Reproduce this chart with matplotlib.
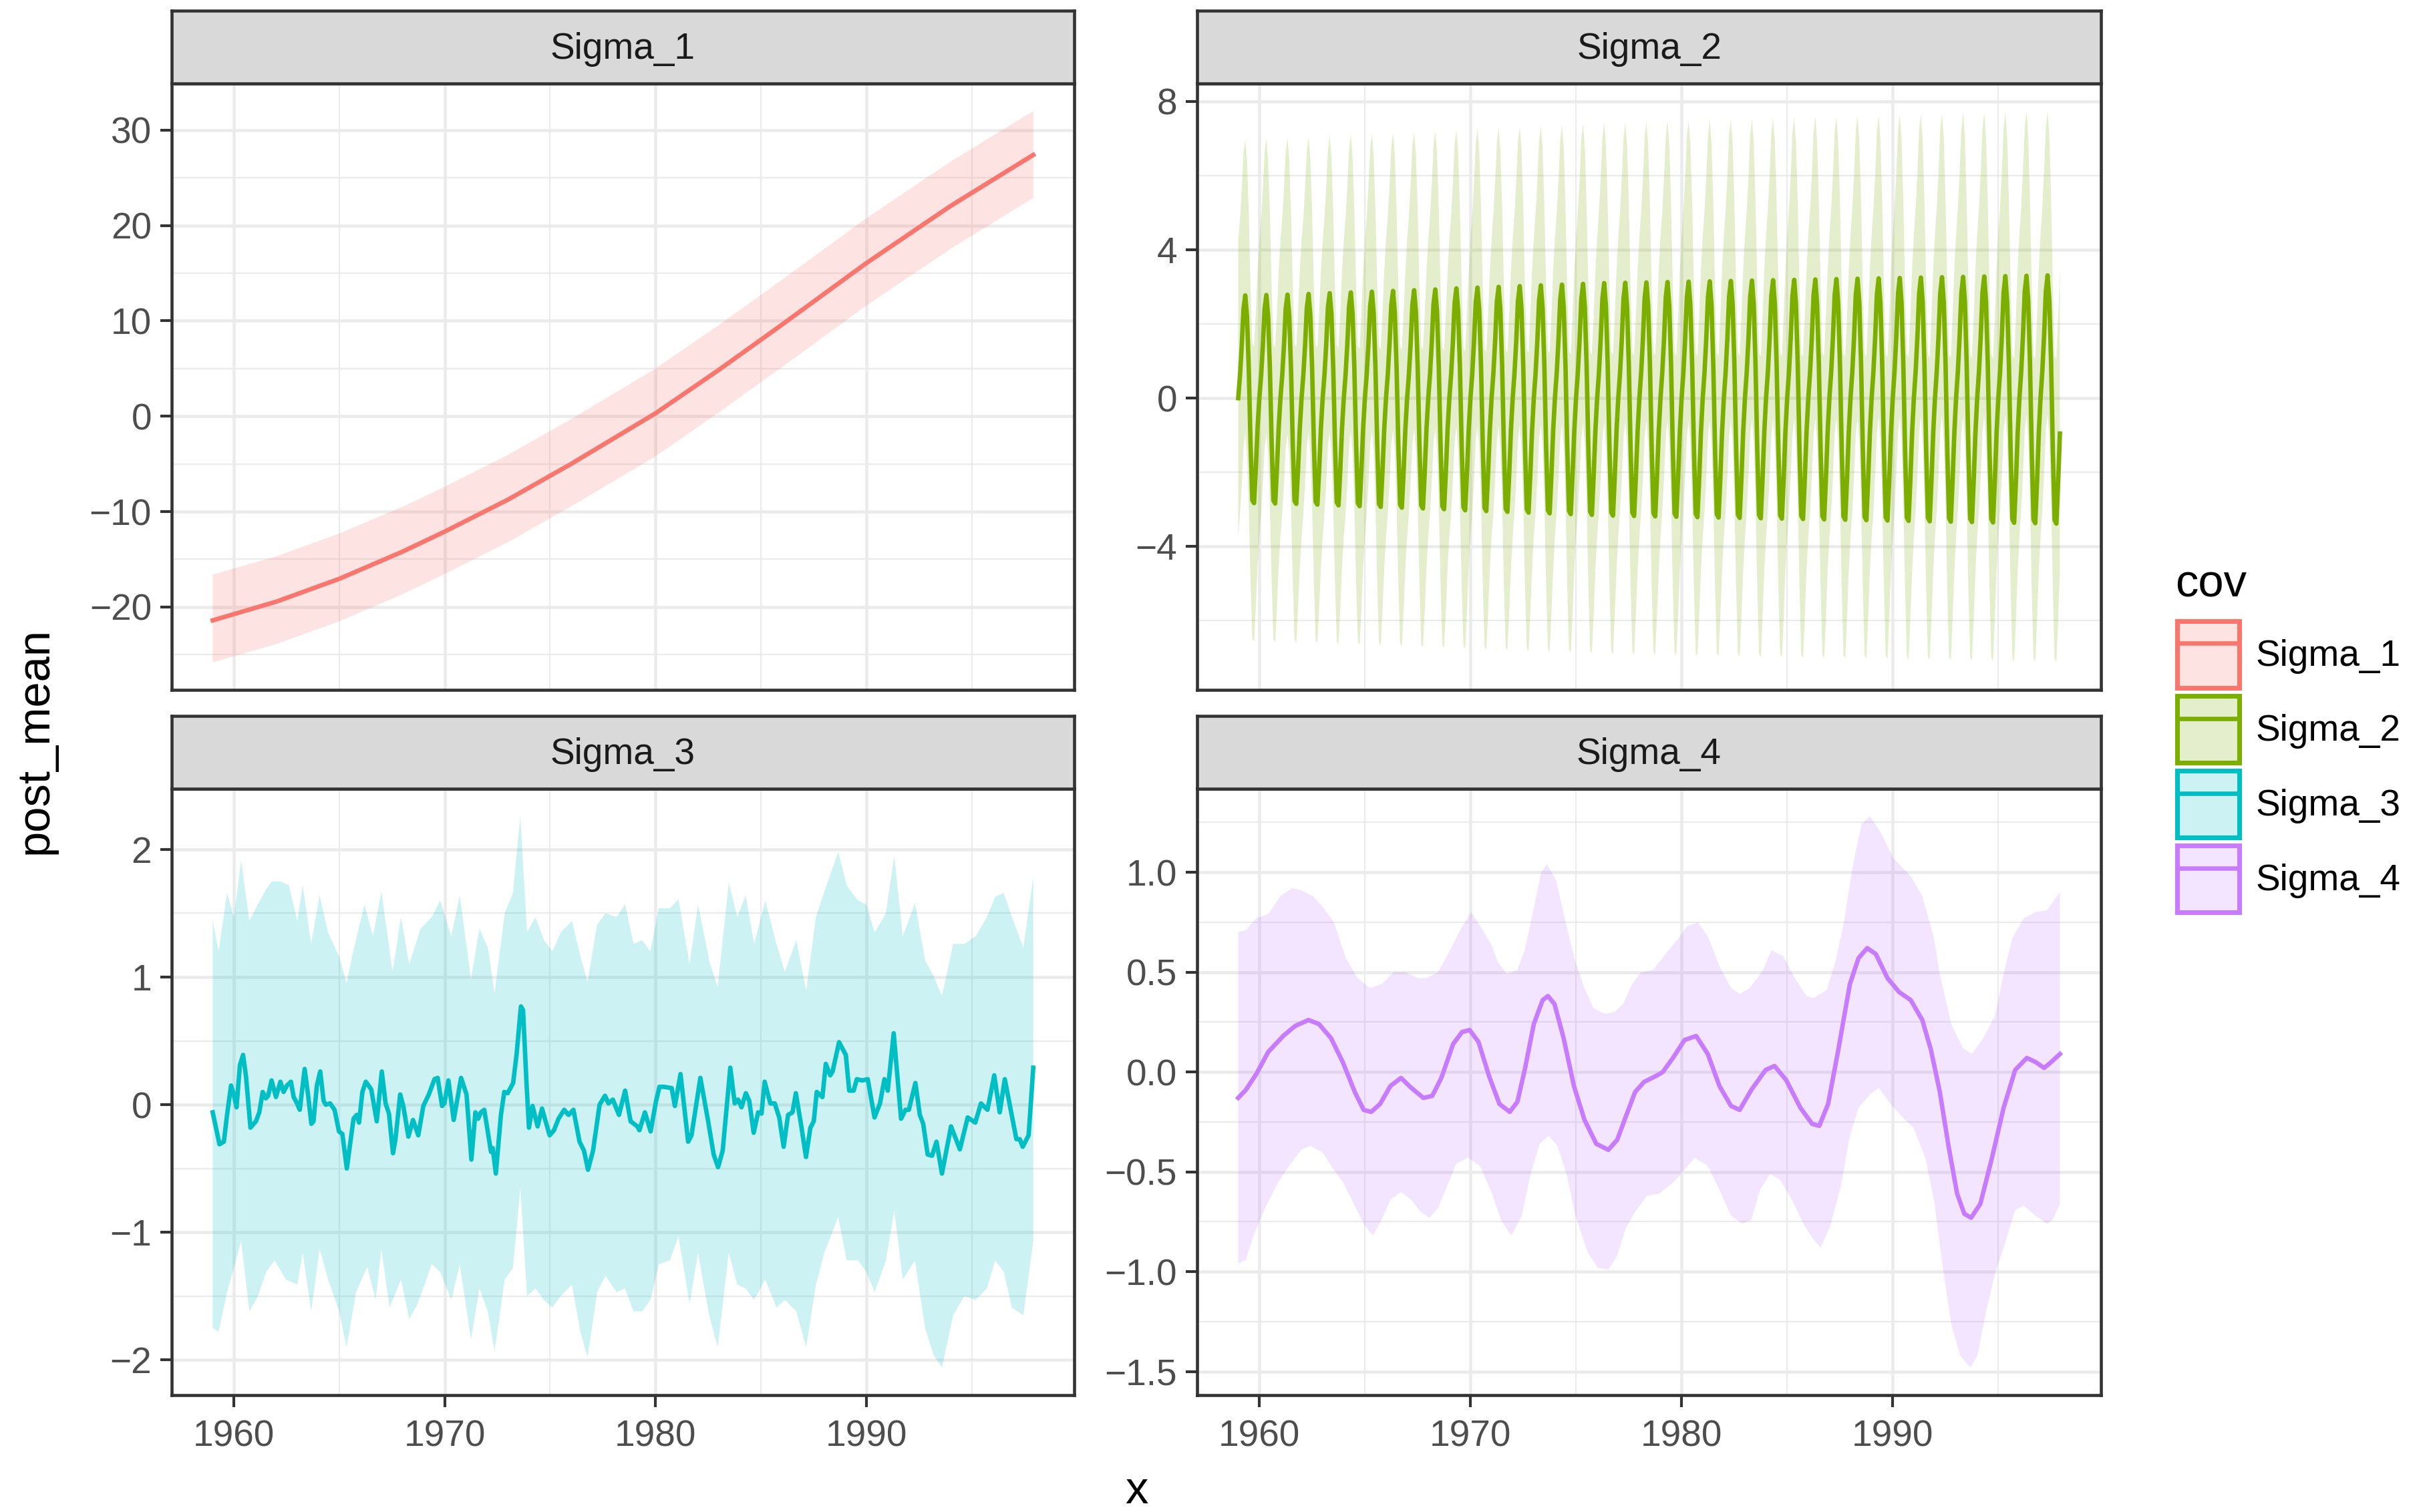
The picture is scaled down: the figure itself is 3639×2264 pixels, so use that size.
import numpy as np
import matplotlib
matplotlib.use("Agg")
import matplotlib.pyplot as plt
from matplotlib.patches import Patch
from matplotlib.lines import Line2D
from matplotlib.ticker import MultipleLocator, FuncFormatter

plt.rcParams['font.family'] = ['Liberation Sans', 'DejaVu Sans']

# ggplot default hue palette, one colour per facet
panel_names = ['Sigma_1', 'Sigma_2', 'Sigma_3', 'Sigma_4']
colours = ['#F8766D', '#7CAE00', '#00BFC4', '#C77CFF']

# ---- Sigma_1 : smooth trend ----
s1_year = [1959, 1962, 1965, 1968, 1970, 1973, 1976, 1980, 1983, 1986, 1990, 1994, 1997.92]
s1_mean = [-21.4, -19.45, -17.05, -14.2, -12.1, -8.75, -5.0, 0.3, 4.85, 9.6, 16.05, 22.05, 27.4]
s1_upper = [-16.6, -14.7, -12.3, -9.5, -7.4, -4.05, -0.3, 5.0, 9.55, 14.3, 20.75, 26.7, 32.0]
s1_lower = [-25.8, -23.9, -21.5, -18.65, -16.55, -13.2, -9.45, -4.2, 0.4, 5.15, 11.6, 17.55, 22.9]

# ---- Sigma_2 : seasonal cycle, monthly 1959-1997 ----
# monthly shape of 1959 (Jan..Dec) and the peak reached in each year
s2_month_shape = [0.0, 0.6, 1.4, 2.4, 2.77, 2.2, 0.8, -1.2, -2.75, -2.83, -1.9, -0.8]
s2_peak_by_year = [2.77, 2.78, 2.79, 2.81, 2.83, 2.85, 2.87, 2.89, 2.91, 2.93,
                   2.96, 2.98, 3.00, 3.02, 3.04, 3.06, 3.08, 3.10, 3.11, 3.12,
                   3.13, 3.14, 3.15, 3.16, 3.17, 3.18, 3.19, 3.20, 3.21, 3.22,
                   3.23, 3.24, 3.25, 3.26, 3.27, 3.28, 3.29, 3.30, 3.31]
# ribbon distance above / below the mean for each year
s2_band_above = [4.22, 4.22, 4.23, 4.23, 4.24, 4.25, 4.25, 4.26, 4.27, 4.27,
                 4.28, 4.29, 4.29, 4.30, 4.31, 4.31, 4.32, 4.33, 4.33, 4.34,
                 4.35, 4.35, 4.36, 4.37, 4.37, 4.38, 4.38, 4.39, 4.39, 4.40,
                 4.40, 4.41, 4.41, 4.42, 4.42, 4.42, 4.43, 4.43, 4.43]
s2_band_below = 3.74

# ---- Sigma_3 : noisy residual ----
s3_year = [1959.0, 1959.32, 1959.53, 1959.68, 1959.87, 1960.0, 1960.13, 1960.29, 1960.44, 1960.58,
           1960.79, 1961.05, 1961.21, 1961.37, 1961.52, 1961.63, 1961.79, 1962.0, 1962.21, 1962.36,
           1962.52, 1962.71, 1962.84, 1963.0, 1963.13, 1963.36, 1963.52, 1963.68, 1963.78, 1963.94,
           1964.10, 1964.26, 1964.36, 1964.57, 1964.78, 1964.99, 1965.15, 1965.36, 1965.55, 1965.68,
           1965.83, 1965.94, 1966.10, 1966.26, 1966.52, 1966.78, 1967.02, 1967.20, 1967.36, 1967.55,
           1967.67, 1967.89, 1968.04, 1968.28, 1968.50, 1968.75, 1968.99, 1969.25, 1969.52, 1969.67,
           1969.88, 1969.99, 1970.18, 1970.43, 1970.78, 1971.04, 1971.27, 1971.46, 1971.59, 1971.72,
           1971.88, 1972.20, 1972.28, 1972.43, 1972.67, 1972.83, 1972.99, 1973.25, 1973.41, 1973.62,
           1973.72, 1973.88, 1974.00, 1974.17, 1974.41, 1974.62, 1974.98, 1975.19, 1975.40, 1975.67,
           1975.88, 1976.11, 1976.40, 1976.61, 1976.80, 1977.04, 1977.35, 1977.61, 1977.77, 1977.98,
           1978.27, 1978.56, 1978.82, 1979.14, 1979.24, 1979.50, 1979.77, 1980.03, 1980.19, 1980.40,
           1980.77, 1980.92, 1981.19, 1981.55, 1981.71, 1982.13, 1982.50, 1982.76, 1982.97, 1983.19,
           1983.55, 1983.76, 1983.92, 1984.08, 1984.29, 1984.45, 1984.66, 1984.87, 1985.03, 1985.18,
           1985.45, 1985.66, 1985.87, 1986.08, 1986.29, 1986.50, 1986.66, 1986.92, 1987.14, 1987.35,
           1987.51, 1987.65, 1987.92, 1988.08, 1988.29, 1988.40, 1988.71, 1989.03, 1989.19, 1989.40,
           1989.55, 1989.81, 1990.07, 1990.39, 1990.65, 1990.86, 1991.02, 1991.30, 1991.65, 1991.86,
           1992.02, 1992.33, 1992.54, 1992.70, 1992.91, 1993.12, 1993.33, 1993.59, 1994.02, 1994.44,
           1994.81, 1995.17, 1995.44, 1995.75, 1996.07, 1996.33, 1996.57, 1997.12, 1997.28, 1997.42,
           1997.70, 1997.92]
s3_mean = [-0.06, -0.31, -0.29, -0.08, 0.15, 0.08, -0.02, 0.31, 0.39, 0.22,
           -0.18, -0.13, -0.06, 0.10, 0.05, 0.07, 0.19, 0.06, 0.18, 0.10,
           0.15, 0.18, 0.06, 0.01, -0.04, 0.28, 0.08, -0.15, -0.13, 0.15,
           0.26, 0.03, 0.00, 0.01, -0.04, -0.21, -0.23, -0.50, -0.27, -0.11,
           -0.08, -0.14, 0.10, 0.18, 0.12, -0.13, 0.26, 0.01, -0.07, -0.38,
           -0.27, 0.08, -0.01, -0.25, -0.12, -0.24, -0.01, 0.08, 0.20, 0.21,
           -0.01, 0.01, 0.19, -0.12, 0.21, 0.08, -0.43, -0.06, -0.11, -0.06,
           -0.04, -0.37, -0.34, -0.54, -0.08, 0.10, 0.09, 0.17, 0.39, 0.77,
           0.74, 0.18, -0.18, -0.01, -0.17, -0.03, -0.24, -0.20, -0.11, -0.04,
           -0.08, -0.04, -0.29, -0.36, -0.51, -0.36, 0.00, 0.07, 0.01, 0.04,
           -0.08, 0.11, -0.13, -0.17, -0.20, -0.06, -0.21, 0.03, 0.14, 0.14,
           0.13, -0.01, 0.24, -0.29, -0.24, 0.21, -0.13, -0.39, -0.49, -0.36,
           0.29, 0.01, 0.04, -0.02, 0.09, 0.03, -0.22, -0.06, -0.07, 0.18,
           0.01, 0.01, -0.10, -0.33, -0.08, -0.06, 0.09, -0.17, -0.41, -0.18,
           -0.13, 0.10, 0.06, 0.32, 0.23, 0.26, 0.49, 0.39, 0.11, 0.11,
           0.20, 0.19, 0.20, -0.10, 0.01, 0.20, 0.11, 0.56, -0.11, -0.04,
           -0.04, 0.17, -0.08, -0.15, -0.39, -0.40, -0.29, -0.54, -0.17, -0.35,
           -0.10, -0.14, 0.01, -0.04, 0.23, -0.06, 0.20, -0.27, -0.27, -0.33,
           -0.24, 0.29]
s3_upper_year = [1959.0, 1959.28, 1959.68, 1960.0, 1960.35, 1960.74, 1961.14, 1961.54, 1961.81, 1962.21,
                 1962.61, 1963.01, 1963.27, 1963.67, 1964.07, 1964.47, 1965.0, 1965.35, 1965.66, 1966.20,
                 1966.60, 1967.0, 1967.53, 1967.93, 1968.32, 1968.86, 1969.39, 1969.79, 1970.32, 1970.72,
                 1971.25, 1971.65, 1972.05, 1972.37, 1972.85, 1973.24, 1973.59, 1973.91, 1974.31, 1974.71,
                 1975.11, 1975.51, 1976.04, 1976.44, 1976.78, 1977.23, 1977.63, 1978.16, 1978.56, 1978.96,
                 1979.36, 1979.76, 1980.16, 1980.69, 1981.09, 1981.62, 1982.02, 1982.55, 1982.95, 1983.48,
                 1983.88, 1984.28, 1984.68, 1985.21, 1985.74, 1986.14, 1986.68, 1987.15, 1987.61, 1988.01,
                 1988.67, 1989.07, 1989.60, 1990.0, 1990.40, 1990.93, 1991.33, 1991.73, 1992.31, 1992.79,
                 1993.19, 1993.59, 1994.12, 1994.65, 1995.19, 1995.72, 1996.12, 1996.52, 1996.91, 1997.45,
                 1997.92]
s3_upper = [1.44, 1.20, 1.66, 1.47, 1.91, 1.44, 1.57, 1.69, 1.75, 1.75,
            1.72, 1.44, 1.72, 1.26, 1.64, 1.35, 1.16, 0.95, 1.20, 1.57,
            1.32, 1.67, 1.04, 1.47, 1.10, 1.38, 1.47, 1.60, 1.32, 1.64,
            0.98, 1.38, 1.23, 0.87, 1.50, 1.66, 2.26, 1.35, 1.47, 1.29,
            1.20, 1.35, 1.44, 1.16, 0.96, 1.41, 1.50, 1.47, 1.57, 1.26,
            1.29, 1.20, 1.54, 1.54, 1.61, 1.10, 1.57, 1.13, 0.92, 1.74,
            1.47, 1.64, 1.26, 1.60, 1.26, 1.04, 1.29, 0.89, 1.47, 1.67,
            1.98, 1.72, 1.60, 1.57, 1.35, 1.50, 1.95, 1.32, 1.58, 1.13,
            1.01, 0.85, 1.26, 1.26, 1.32, 1.47, 1.63, 1.66, 1.47, 1.23,
            1.78]
s3_lower_year = [1959.0, 1959.28, 1959.68, 1960.0, 1960.35, 1960.74, 1961.14, 1961.54, 1961.94, 1962.47,
                 1963.01, 1963.27, 1963.67, 1964.07, 1964.47, 1965.0, 1965.35, 1965.80, 1966.33, 1966.73,
                 1967.0, 1967.39, 1967.93, 1968.32, 1968.72, 1969.39, 1969.79, 1970.32, 1970.72, 1971.25,
                 1971.65, 1972.05, 1972.37, 1972.85, 1973.24, 1973.59, 1973.91, 1974.31, 1974.71, 1975.11,
                 1975.51, 1976.04, 1976.44, 1976.78, 1977.23, 1977.63, 1978.16, 1978.56, 1978.96, 1979.36,
                 1979.76, 1980.16, 1980.69, 1981.09, 1981.62, 1982.02, 1982.55, 1982.95, 1983.48, 1983.88,
                 1984.28, 1984.68, 1985.21, 1985.74, 1986.14, 1986.68, 1987.15, 1987.61, 1988.01, 1988.67,
                 1989.07, 1989.60, 1990.0, 1990.40, 1990.93, 1991.33, 1991.73, 1992.31, 1992.79, 1993.19,
                 1993.59, 1994.12, 1994.65, 1995.19, 1995.72, 1996.12, 1996.52, 1996.91, 1997.45, 1997.92]
s3_lower = [-1.75, -1.78, -1.47, -1.28, -1.07, -1.62, -1.50, -1.31, -1.22, -1.37,
            -1.41, -1.16, -1.62, -1.13, -1.37, -1.62, -1.90, -1.47, -1.27, -1.53,
            -1.13, -1.59, -1.37, -1.68, -1.56, -1.25, -1.31, -1.53, -1.25, -1.84,
            -1.44, -1.62, -1.93, -1.37, -1.28, -0.65, -1.50, -1.44, -1.53, -1.59,
            -1.50, -1.41, -1.78, -1.98, -1.47, -1.34, -1.47, -1.44, -1.62, -1.62,
            -1.53, -1.25, -1.22, -1.03, -1.56, -1.16, -1.65, -1.90, -1.16, -1.41,
            -1.44, -1.53, -1.37, -1.59, -1.53, -1.62, -1.90, -1.41, -1.16, -0.88,
            -1.22, -1.22, -1.31, -1.47, -1.22, -0.83, -1.37, -1.22, -1.75, -1.96,
            -2.06, -1.65, -1.50, -1.53, -1.44, -1.22, -1.31, -1.59, -1.65, -1.07]

# ---- Sigma_4 : slow wiggle ----
s4_year = [1959.0, 1959.36, 1959.86, 1960.42, 1961.13, 1961.69, 1962.33, 1962.82, 1963.39, 1963.95,
           1964.52, 1964.94, 1965.30, 1965.72, 1966.21, 1966.71, 1967.20, 1967.77, 1968.19, 1968.62,
           1969.18, 1969.60, 1969.96, 1970.38, 1970.88, 1971.37, 1971.86, 1972.22, 1972.57, 1973.0,
           1973.42, 1973.67, 1973.98, 1974.41, 1974.90, 1975.40, 1975.96, 1976.53, 1976.95, 1977.37,
           1977.80, 1978.22, 1978.79, 1979.11, 1979.59, 1980.14, 1980.69, 1981.24, 1981.79, 1982.34,
           1982.75, 1983.30, 1983.98, 1984.40, 1984.95, 1985.63, 1986.18, 1986.52, 1986.94, 1987.42,
           1987.97, 1988.38, 1988.79, 1989.20, 1989.75, 1990.30, 1990.85, 1991.40, 1991.81, 1992.23,
           1992.64, 1993.05, 1993.39, 1993.71, 1994.15, 1994.70, 1995.25, 1995.80, 1996.35, 1996.76,
           1997.17, 1997.51, 1997.92]
s4_mean = [-0.13, -0.09, -0.01, 0.10, 0.18, 0.23, 0.26, 0.24, 0.17, 0.05,
           -0.10, -0.19, -0.20, -0.16, -0.07, -0.03, -0.08, -0.13, -0.12, -0.03,
           0.14, 0.20, 0.21, 0.15, -0.02, -0.16, -0.20, -0.15, 0.01, 0.24,
           0.36, 0.38, 0.34, 0.17, -0.07, -0.24, -0.36, -0.39, -0.34, -0.22,
           -0.10, -0.05, -0.02, 0.00, 0.07, 0.16, 0.18, 0.09, -0.07, -0.17,
           -0.19, -0.09, 0.01, 0.03, -0.04, -0.18, -0.26, -0.27, -0.16, 0.11,
           0.44, 0.57, 0.62, 0.59, 0.47, 0.40, 0.36, 0.26, 0.11, -0.10,
           -0.37, -0.61, -0.71, -0.73, -0.66, -0.43, -0.18, 0.01, 0.07, 0.05,
           0.02, 0.05, 0.09]
s4_upper_year = [1959.0, 1959.36, 1959.86, 1960.42, 1960.99, 1961.55, 1961.98, 1962.54, 1962.97, 1963.53,
                 1964.10, 1964.66, 1965.23, 1965.79, 1966.36, 1966.92, 1967.49, 1967.91, 1968.47, 1969.04,
                 1969.46, 1970.03, 1970.59, 1971.02, 1971.30, 1971.72, 1972.22, 1972.57, 1973.0, 1973.35,
                 1973.63, 1974.05, 1974.55, 1974.97, 1975.40, 1975.82, 1976.38, 1976.81, 1977.23, 1977.66,
                 1978.08, 1978.64, 1979.31, 1979.86, 1980.27, 1980.76, 1981.24, 1981.79, 1982.34, 1982.75,
                 1983.23, 1983.85, 1984.26, 1984.81, 1985.36, 1985.91, 1986.25, 1986.87, 1987.28, 1987.69,
                 1988.10, 1988.52, 1988.93, 1989.48, 1990.03, 1990.85, 1991.40, 1991.95, 1992.23, 1992.77,
                 1993.32, 1993.74, 1994.29, 1994.84, 1995.25, 1995.66, 1996.21, 1996.76, 1997.31, 1997.65,
                 1997.92]
s4_upper = [0.70, 0.71, 0.77, 0.79, 0.88, 0.92, 0.91, 0.88, 0.83, 0.75,
            0.57, 0.47, 0.42, 0.44, 0.50, 0.50, 0.47, 0.47, 0.50, 0.61,
            0.70, 0.80, 0.71, 0.63, 0.55, 0.49, 0.51, 0.61, 0.82, 1.00,
            1.04, 0.96, 0.73, 0.55, 0.42, 0.32, 0.29, 0.30, 0.34, 0.44,
            0.50, 0.51, 0.60, 0.67, 0.73, 0.75, 0.68, 0.53, 0.42, 0.39,
            0.42, 0.51, 0.61, 0.58, 0.47, 0.38, 0.37, 0.41, 0.55, 0.75,
            1.03, 1.24, 1.28, 1.19, 1.07, 0.98, 0.88, 0.67, 0.49, 0.24,
            0.12, 0.09, 0.17, 0.28, 0.49, 0.67, 0.77, 0.80, 0.81, 0.86,
            0.90]
s4_lower_year = [1959.0, 1959.36, 1959.72, 1960.28, 1960.85, 1961.41, 1961.98, 1962.40, 1962.97, 1963.53,
                 1963.95, 1964.38, 1964.94, 1965.37, 1965.79, 1966.21, 1966.71, 1967.20, 1967.63, 1968.05,
                 1968.47, 1968.90, 1969.32, 1969.89, 1970.45, 1971.02, 1971.44, 1971.94, 1972.43, 1972.85,
                 1973.28, 1973.70, 1974.12, 1974.55, 1974.97, 1975.54, 1976.03, 1976.53, 1976.95, 1977.37,
                 1977.80, 1978.36, 1978.93, 1979.73, 1980.14, 1980.62, 1981.24, 1981.79, 1982.34, 1982.88,
                 1983.30, 1983.71, 1984.19, 1984.67, 1985.22, 1985.77, 1986.18, 1986.59, 1987.01, 1987.55,
                 1987.97, 1988.38, 1988.93, 1989.34, 1989.89, 1990.58, 1990.99, 1991.54, 1991.95, 1992.36,
                 1992.77, 1993.19, 1993.67, 1994.01, 1994.42, 1994.84, 1995.25, 1995.80, 1996.21, 1996.76,
                 1997.31, 1997.58, 1997.92]
s4_lower = [-0.96, -0.94, -0.82, -0.68, -0.56, -0.47, -0.39, -0.37, -0.40, -0.49,
            -0.55, -0.64, -0.76, -0.82, -0.74, -0.64, -0.60, -0.64, -0.70, -0.73,
            -0.68, -0.57, -0.46, -0.43, -0.47, -0.61, -0.74, -0.82, -0.72, -0.51,
            -0.36, -0.32, -0.37, -0.51, -0.72, -0.90, -0.98, -0.99, -0.92, -0.78,
            -0.70, -0.62, -0.61, -0.54, -0.49, -0.43, -0.47, -0.59, -0.72, -0.76,
            -0.74, -0.59, -0.51, -0.54, -0.64, -0.76, -0.83, -0.88, -0.78, -0.57,
            -0.32, -0.18, -0.11, -0.08, -0.16, -0.24, -0.28, -0.43, -0.64, -0.97,
            -1.26, -1.42, -1.48, -1.42, -1.20, -1.01, -0.88, -0.69, -0.67, -0.72,
            -0.76, -0.74, -0.66]

# build the monthly Sigma_2 series from the yearly shape
s2_year = 1959 + np.arange(len(s2_peak_by_year) * 12) / 12.0
s2_mean = np.concatenate([np.array(s2_month_shape) * p / max(s2_month_shape) for p in s2_peak_by_year])
s2_upper = s2_mean + np.repeat(s2_band_above, 12)
s2_lower = s2_mean - s2_band_below

series = [
    (s1_year, s1_mean, s1_year, s1_upper, s1_year, s1_lower, 10, 5, '%d'),
    (s2_year, s2_mean, s2_year, s2_upper, s2_year, s2_lower, 4, 2, '%d'),
    (s3_year, s3_mean, s3_upper_year, s3_upper, s3_lower_year, s3_lower, 1, 0.5, '%d'),
    (s4_year, s4_mean, s4_upper_year, s4_upper, s4_lower_year, s4_lower, 0.5, 0.25, '%.1f'),
]

W, H = 3639, 2264
fig = plt.figure(figsize=(W / 300, H / 300), dpi=300)

# panel boxes in pixels: (left, top, right, bottom)
boxes = [(257, 125, 1608, 1033), (1792, 125, 3145, 1033),
         (257, 1181, 1608, 2089), (1792, 1181, 3145, 2089)]
strip_h = 109
grid_col = '#EBEBEB'
dark = '#333333'
line_w = 1.6

for i, (name, col, box, s) in enumerate(zip(panel_names, colours, boxes, series)):
    x0, y0, x1, y1 = box
    ax = fig.add_axes([x0 / W, 1 - y1 / H, (x1 - x0) / W, (y1 - y0) / H])
    mx, my, ux, uy, lx, ly, major, minor, fmt = s

    # ribbon as one polygon (upper edge, then lower edge backwards)
    px = np.concatenate([np.asarray(ux, float), np.asarray(lx, float)[::-1]])
    py = np.concatenate([np.asarray(uy, float), np.asarray(ly, float)[::-1]])
    ax.fill(px, py, color=col, alpha=0.2, lw=0)
    ax.plot(mx, my, color=col, lw=line_w, solid_joinstyle='round')

    lo = min(np.min(ly), np.min(my))
    hi = max(np.max(uy), np.max(my))
    pad = 0.05 * (hi - lo)
    ax.set_ylim(lo - pad, hi + pad)
    xr = 1997.917 - 1959.0
    ax.set_xlim(1959.0 - 0.05 * xr, 1997.917 + 0.05 * xr)

    ax.xaxis.set_major_locator(MultipleLocator(10))
    ax.xaxis.set_minor_locator(MultipleLocator(5))
    ax.yaxis.set_major_locator(MultipleLocator(major))
    ax.yaxis.set_minor_locator(MultipleLocator(minor))
    ax.yaxis.set_major_formatter(FuncFormatter(lambda v, p, f=fmt: (f % v).replace('-', '\u2212')))
    ax.xaxis.set_major_formatter(FuncFormatter(lambda v, p: '%d' % v))

    ax.set_axisbelow(True)
    ax.grid(which='major', color=grid_col, lw=1.1)
    ax.grid(which='minor', color=grid_col, lw=0.55)
    for sp in ax.spines.values():
        sp.set_color(dark)
        sp.set_linewidth(1.1)
    ax.tick_params(which='major', direction='out', length=4.2, width=1.0, color=dark,
                   labelcolor='#4D4D4D', labelsize=13.2, pad=3)
    ax.tick_params(axis='x', which='major', pad=4.5)
    ax.tick_params(which='minor', length=0)
    if i < 2:
        ax.tick_params(axis='x', which='both', length=0, labelbottom=False)

    # facet strip
    sax = fig.add_axes([x0 / W, 1 - y0 / H, (x1 - x0) / W, strip_h / H])
    sax.set_facecolor('#D9D9D9')
    sax.set_xticks([])
    sax.set_yticks([])
    for sp in sax.spines.values():
        sp.set_color(dark)
        sp.set_linewidth(1.1)
    sax.text(0.5, 0.47, name, ha='center', va='center', fontsize=13.2, color='#1A1A1A',
             transform=sax.transAxes)

fig.text(1701 / W, 1 - 2233 / H, 'x', ha='center', va='center', fontsize=16.5)
fig.text(53 / W, 1 - 1109 / H, 'post_mean', ha='center', va='center', rotation=90, fontsize=16.5)

# legend: title as its own text, keys as square patch + line
fig.text(3256 / W, 1 - 894 / H, 'cov', ha='left', va='baseline', fontsize=16.5)
handles = [(Patch(facecolor=matplotlib.colors.to_rgba(c, 0.2), edgecolor=c, lw=1.7),
            Line2D([], [], color=c, lw=line_w)) for c in colours]
leg = fig.legend(handles, panel_names, loc='upper left',
                 bbox_to_anchor=(3259 / W, 1 - 930 / H), frameon=False,
                 fontsize=13.2, handlelength=1.69, handleheight=2.42, labelspacing=0.22,
                 handletextpad=0.44, borderpad=0, borderaxespad=0)

fig.savefig('out.png', dpi=300, facecolor='white')
